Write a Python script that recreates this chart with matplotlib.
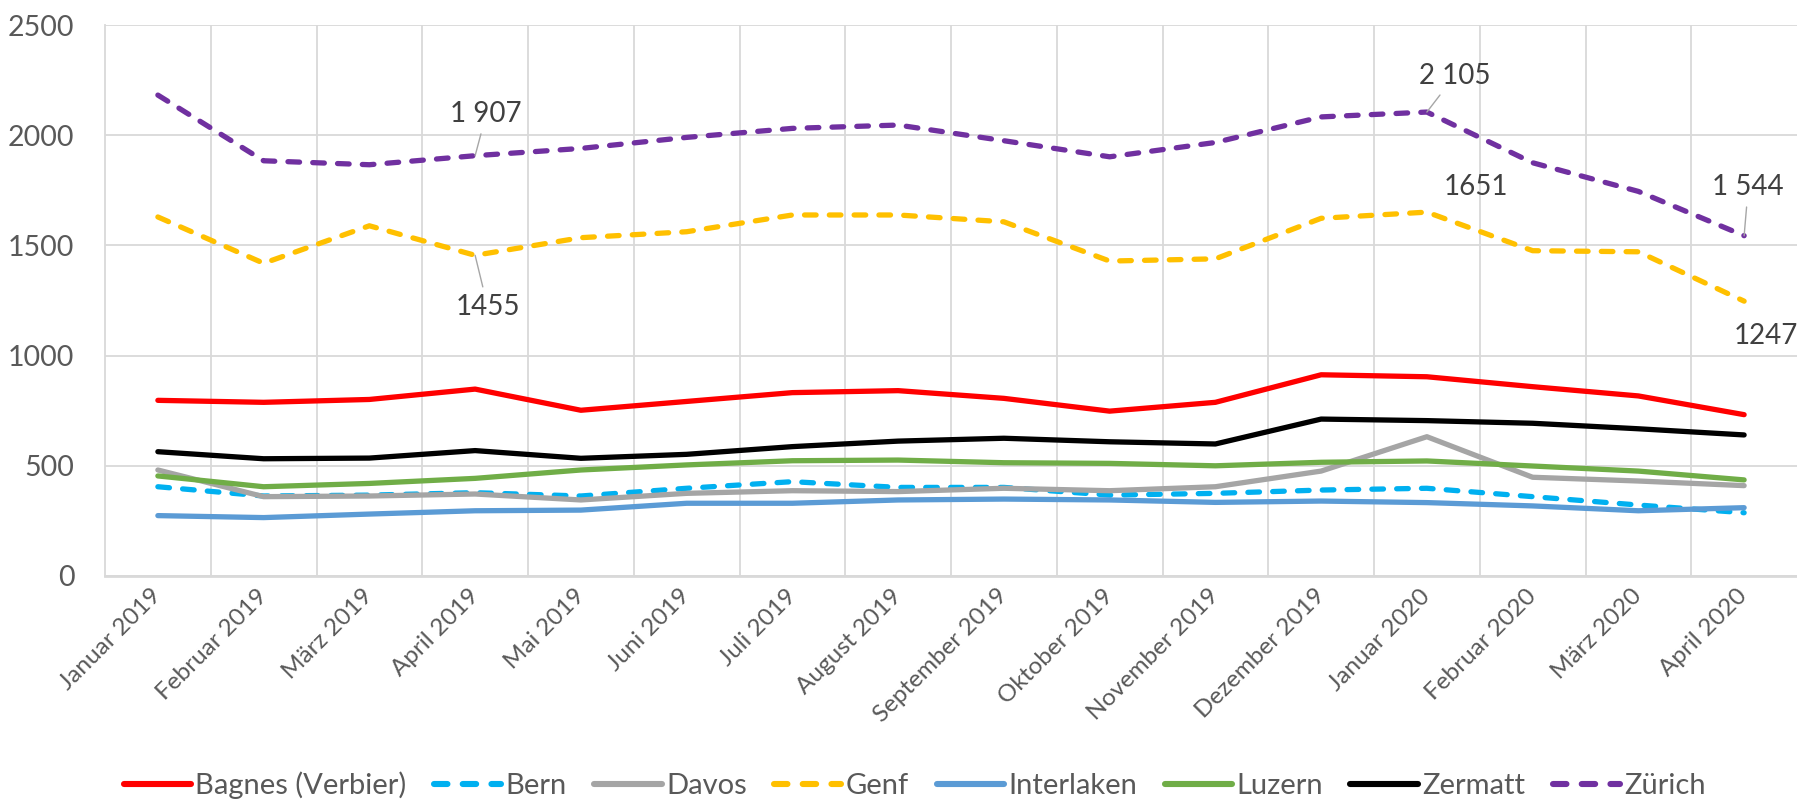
import matplotlib
matplotlib.use("Agg")
import matplotlib.pyplot as plt

months = ["Januar 2019", "Februar 2019", "März 2019", "April 2019", "Mai 2019",
          "Juni 2019", "Juli 2019", "August 2019", "September 2019", "Oktober 2019",
          "November 2019", "Dezember 2019", "Januar 2020", "Februar 2020",
          "März 2020", "April 2020"]

bagnes = [797, 788, 801, 848, 752, 792, 832, 841, 806, 748, 788, 913, 904, 859, 817, 732]
bern = [405, 363, 367, 378, 363, 398, 428, 402, 402, 367, 375, 390, 398, 360, 322, 287]
davos = [481, 360, 363, 372, 345, 375, 387, 383, 398, 387, 405, 476, 632, 448, 431, 410]
genf = [1629, 1419, 1589, 1455, 1535, 1562, 1638, 1638, 1607, 1429, 1439, 1623, 1651, 1476, 1471, 1247]
interlaken = [274, 265, 281, 296, 299, 330, 330, 345, 349, 345, 334, 340, 333, 318, 296, 310]
luzern = [454, 405, 420, 443, 481, 504, 523, 526, 514, 511, 500, 516, 522, 499, 476, 436]
zermatt = [564, 532, 535, 569, 534, 552, 587, 612, 625, 609, 599, 712, 705, 693, 668, 640]
zurich = [2182, 1884, 1866, 1907, 1940, 1990, 2031, 2046, 1975, 1902, 1967, 2083, 2105, 1875, 1745, 1544]

series_names = ["Bagnes (Verbier)", "Bern", "Davos", "Genf", "Interlaken", "Luzern", "Zermatt", "Zürich"]
series_values = [bagnes, bern, davos, genf, interlaken, luzern, zermatt, zurich]
series_colors = ["#FF0000", "#00B0F0", "#A5A5A5", "#FFC000", "#5B9BD5", "#70AD47", "#000000", "#7030A0"]
series_dashed = [False, True, False, True, False, False, False, True]

yticks = [0, 500, 1000, 1500, 2000, 2500]

# labelled points: (series index, category index, offset in points, leader line)
label_points = [(7, 3, (8, 30), True), (3, 3, (9, -37), True),
                (7, 12, (20, 26), True), (3, 12, (35, 18), False),
                (7, 15, (3, 35), True), (3, 15, (16, -25), False)]

TXT = "#595959"
GRID = "#D9D9D9"
plt.rcParams["font.family"] = ["Lato", "DejaVu Sans"]

fig = plt.figure(figsize=(17.97, 8.01), dpi=100)
ax = fig.add_axes([105 / 1797, 1 - 576 / 801, 1 - 105 / 1797, (576 - 25) / 801])

x = list(range(len(months)))
lw = 3.8
for name, vals, col, dashed in zip(series_names, series_values, series_colors, series_dashed):
    if dashed:
        ax.plot(x, vals, color=col, lw=lw, label=name, linestyle=(0, (2.2, 2.5)),
                dash_capstyle="round", solid_joinstyle="round", zorder=3)
    else:
        ax.plot(x, vals, color=col, lw=lw, label=name, solid_capstyle="round",
                solid_joinstyle="round", zorder=3)

for si, ci, off, leader in label_points:
    v = series_values[si][ci]
    txt = f"{v:,}".replace(",", " ") if si == 7 else str(v)
    kw = {}
    if leader:
        kw["arrowprops"] = dict(arrowstyle="-", color="#A6A6A6", lw=1.0, shrinkA=3, shrinkB=0)
    ax.annotate(txt, xy=(ci, v), xytext=off, textcoords="offset points",
                ha="center", va="center", fontsize=20, color="#404040", **kw)

ax.set_xlim(-0.5, len(months) - 0.5)
ax.set_ylim(0, 2500)
ax.set_yticks(yticks)
ax.set_yticklabels([str(t) for t in yticks], fontsize=20.5, color=TXT)
ax.set_xticks(x)
ax.set_xticklabels(months, rotation=45, ha="right", va="center", rotation_mode="anchor",
                   fontsize=17.5, color=TXT)
ax.set_xticks([i + 0.5 for i in range(len(months) - 1)], minor=True)
ax.tick_params(axis="both", which="both", length=0)
ax.tick_params(axis="y", pad=22)
ax.tick_params(axis="x", pad=12)
ax.grid(True, axis="y", color=GRID, lw=1.3, zorder=0)
ax.grid(True, axis="x", which="minor", color=GRID, lw=1.3, zorder=0)
ax.grid(False, axis="x", which="major")
ax.set_axisbelow(True)
for s in ["top", "right"]:
    ax.spines[s].set_visible(False)
ax.spines["left"].set_color(GRID)
ax.spines["left"].set_linewidth(1.3)
ax.spines["bottom"].set_color(GRID)
ax.spines["bottom"].set_linewidth(2.0)

leg = fig.legend(loc="center", bbox_to_anchor=(0.509, 0.02), ncol=8, frameon=False,
                 fontsize=21, handlelength=2.3, handletextpad=0.15, columnspacing=0.95,
                 borderpad=0, borderaxespad=0)
for t in leg.get_texts():
    t.set_color(TXT)
for h in leg.get_lines():
    h.set_linewidth(4.4)

fig.savefig("out.png", dpi=100)
